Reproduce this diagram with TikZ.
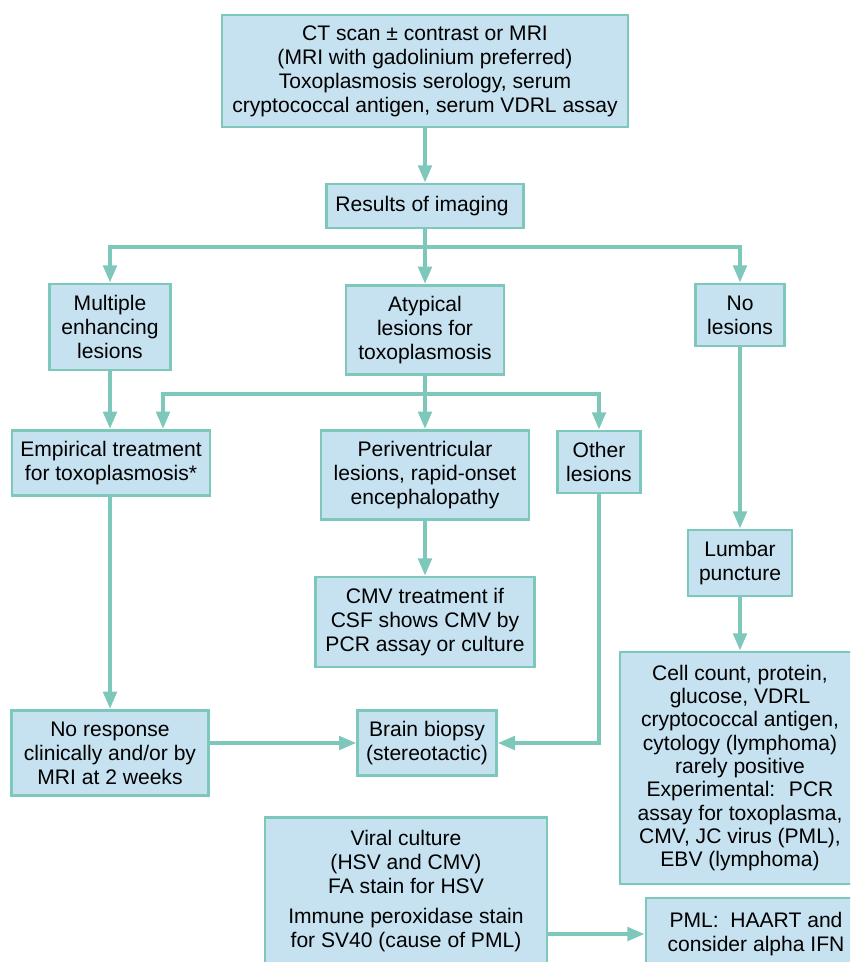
\documentclass[tikz,border=0pt]{standalone}
\usepackage{fontspec}
\setmainfont{Liberation Sans}
\usepackage{tikz}
\usetikzlibrary{arrows.meta}
\definecolor{boxfill}{RGB}{198,225,239}
\definecolor{boxline}{RGB}{125,199,187}

\begin{document}
\begin{tikzpicture}[x=0.75pt,y=-0.75pt,every text node part/.style={align=center}]
  \tikzstyle{box}=[rectangle,draw=boxline,fill=boxfill,line width=2pt,
    inner sep=1pt,font=\fontsize{15.8}{18}\selectfont]
  \tikzstyle{link}=[draw=boxline,line width=3pt]
  \tikzstyle{arrow}=[link,-{Triangle[width=10pt,length=13pt]}]

  \useasboundingbox (0,0) rectangle (850,962);
  \clip (0,0) rectangle (850,962);

  \node [box,minimum width=304.5pt,minimum height=84pt] (scan) at (425,71) {
    CT scan ± contrast or MRI\\
    (MRI with gadolinium preferred)\\
    Toxoplasmosis serology, serum\\
    cryptococcal antigen, serum VDRL assay
  };
  \node [box,minimum width=148pt,minimum height=33pt] (results) at (425,206) {
    Results of imaging
  };
  \node [box,minimum width=91pt,minimum height=64.5pt] (multiple) at (110,327) {
    Multiple\\
    enhancing\\
    lesions
  };
  \node [box,minimum width=118.5pt,minimum height=67pt] (atypical) at (425,330) {
    Atypical\\
    lesions for\\
    toxoplasmosis
  };
  \node [box,minimum width=67pt,minimum height=46.5pt] (nolesions) at (740,315) {
    No\\
    lesions
  };
  \node [box,minimum width=148.5pt,minimum height=49pt] (empirical) at (111,463) {
    Empirical treatment\\
    for toxoplasmosis*
  };
  \node [box,minimum width=156pt,minimum height=67pt] (periv) at (425,475) {
    Periventricular\\
    lesions, rapid-onset\\
    encephalopathy
  };
  \node [box,minimum width=62pt,minimum height=46.5pt] (other) at (599,462) {
    Other\\
    lesions
  };
  \node [box,minimum width=164pt,minimum height=67.5pt] (cmv) at (425,622) {
    CMV treatment if\\
    CSF shows CMV by\\
    PCR assay or culture
  };
  \node [box,minimum width=78pt,minimum height=49.5pt] (lumbar) at (740,563) {
    Lumbar\\
    puncture
  };
  \node [box,minimum width=180pt,minimum height=174pt,
    font=\fontsize{15.8}{17.5}\selectfont] (csf) at (740,768) {
    Cell count, protein,\\
    glucose, VDRL\\
    cryptococcal antigen,\\
    cytology (lymphoma)\\
    rarely positive\\
    Experimental:~ PCR\\
    assay for toxoplasma,\\
    CMV, JC virus (PML),\\
    EBV (lymphoma)
  };
  \node [box,minimum width=148pt,minimum height=64pt] (noresp) at (110,753) {
    No response\\
    clinically and/or by\\
    MRI at 2 weeks
  };
  \node [box,minimum width=104pt,minimum height=49pt] (biopsy) at (427,743) {
    Brain biopsy\\
    (stereotactic)
  };
  \node [box,minimum width=211.5pt,minimum height=110pt] (viral) at (406,891) {
    Viral culture\\
    (HSV and CMV)\\
    FA stain for HSV\\[5pt]
    Immune peroxidase stain\\
    for SV40 (cause of PML)
  };
  \node [box,minimum width=165pt,minimum height=54pt] (pml) at (756,934) {
    PML:~ HAART and\\
    consider alpha IFN
  };

  \coordinate (split1) at (425,247);
  \coordinate (split2) at (425,394);

  \draw [arrow] (scan) -- (results);
  \draw [link] (results) -- (split1);
  \draw [arrow] (split1) -| (multiple);
  \draw [arrow] (split1) -- (atypical);
  \draw [arrow] (split1) -| (nolesions);
  \draw [arrow] (multiple.south) -- (multiple.south |- empirical.north);
  \draw [link] (atypical) -- (split2);
  \draw [arrow] (split2) -| ([xshift=39pt]empirical.north);
  \draw [arrow] (split2) -- (periv);
  \draw [arrow] (split2) -| (other);
  \draw [arrow] (periv) -- (cmv);
  \draw [arrow] (nolesions) -- (lumbar);
  \draw [arrow] (lumbar) -- (csf);
  \draw [arrow] (empirical.south -| noresp.north) -- (noresp);
  \draw [arrow] (noresp.east |- biopsy.west) -- (biopsy.west);
  \draw [arrow] (other) |- (biopsy);
  \draw [arrow] (viral.east |- pml.west) -- (pml.west);
\end{tikzpicture}
\end{document}
